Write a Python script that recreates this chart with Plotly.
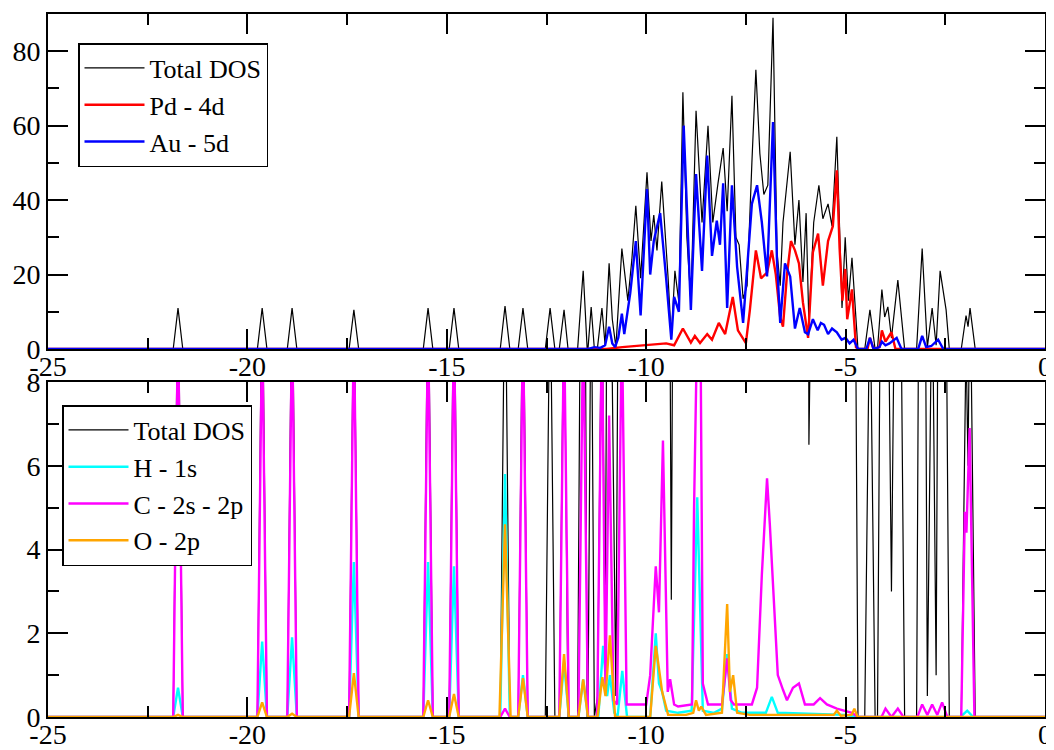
import plotly.graph_objects as go

# ---------------- data ----------------
# Total density of states (shared by both panels)
E_TOTAL = [-25.0,
           -21.86, -21.74, -21.62,
           -19.75, -19.63, -19.51,
           -19.00, -18.88, -18.76,
           -17.45, -17.33, -17.21,
           -15.59, -15.47, -15.35,
           -14.94, -14.82, -14.70,
           -13.66, -13.54, -13.42,
           -13.21, -13.09, -12.97,
           -12.53, -12.41, -12.29,
           -12.18, -12.06, -11.96,
           -11.72, -11.58, -11.48, -11.46, -11.38, -11.30, -11.22, -11.11, -11.03, -10.93,
           -10.85, -10.76, -10.61, -10.46, -10.36, -10.26, -10.14, -9.98, -9.88, -9.81,
           -9.73, -9.61, -9.45, -9.37, -9.28, -9.18, -9.08, -8.98, -8.88, -8.75,
           -8.60, -8.45, -8.33, -8.20, -8.07, -7.97, -7.85, -7.75, -7.67, -7.57,
           -7.47, -7.35, -7.25, -7.15, -7.05, -6.95, -6.82, -6.72, -6.64, -6.57,
           -6.39, -6.27, -6.17, -6.07, -5.99, -5.92, -5.80, -5.67, -5.57, -5.44,
           -5.34, -5.22, -5.09, -5.01, -4.93, -4.84, -4.69,
           -4.52, -4.39, -4.26, -4.20, -4.09, -4.02, -3.94, -3.85, -3.69, -3.52,
           -3.22, -3.08, -2.95, -2.83, -2.73, -2.63, -2.48, -2.40,
           -2.10, -1.98, -1.93, -1.88, -1.75, 0.0]
DOS_TOTAL = [0,
             0, 11, 0,
             0, 11, 0,
             0, 11, 0,
             0, 10.5, 0,
             0, 11, 0,
             0, 11, 0,
             0, 11.5, 0,
             0, 11, 0,
             0, 11, 0,
             0, 10.5, 0,
             0, 21, 0, 0, 11.3, 0, 0.5, 11, 1.0, 23,
             8, 0.5, 27, 13, 24, 38.5, 19, 47.5, 29, 36,
             26.5, 45, 19, 2.8, 21, 12.5, 69, 30, 12.5, 64,
             34, 60, 34, 44.5, 54, 37, 68, 30, 28, 13.5,
             17, 50, 75, 52.5, 41.5, 44, 89, 26, 17, 34,
             53, 28, 40, 18, 36.5, 6.5, 34, 44, 35, 39,
             33, 57, 11, 30, 13, 24.5, 0,
             0, 10.5, 0, 0, 16, 8.6, 11.3, 3, 18.5, 0,
             0, 27, 0.5, 11, 1, 21, 10.5, 0,
             0, 9, 6, 11, 0, 0]

# Pd - 4d
E_PD = [-25.0, -11.0, -10.6, -10.0, -9.5, -9.3, -9.08, -8.88, -8.78, -8.65,
        -8.47, -8.35, -8.18, -8.02, -7.83, -7.70, -7.50, -7.40, -7.25, -7.12,
        -6.97, -6.85, -6.75, -6.64, -6.57, -6.47, -6.37, -6.27, -6.17, -6.07,
        -5.94, -5.82, -5.69, -5.57, -5.44, -5.32, -5.22, -5.15, -5.08, -5.01,
        -4.96, -4.84, -4.74, -4.69, -4.45, -4.39, -4.30, -4.15, -4.09, -4.00,
        -3.85, -3.75, 0.0]
DOS_PD = [0, 0, 0.5, 1, 1.5, 1, 5.5, 1.7, 3.5, 1.6,
          4, 2.5, 7, 4, 14, 5, 1.6, 10.5, 26.5, 19,
          20.5, 26.5, 20, 8.5, 6, 20, 29, 26.5, 23, 12.5,
          3, 26, 31, 17, 29, 33, 48, 27, 13, 21.5,
          8, 16, 0.5, 0, 0, 3, 0, 0.5, 5, 2,
          4.5, 0, 0]

# Au - 5d
E_AU = [-25.0, -11.45, -11.30, -11.15, -11.03, -10.93, -10.85, -10.78, -10.70, -10.61,
        -10.55, -10.40, -10.26, -10.14, -9.98, -9.90, -9.81, -9.65, -9.50, -9.37,
        -9.30, -9.18, -9.06, -8.88, -8.75, -8.60, -8.47, -8.35, -8.23, -8.15,
        -8.07, -7.97, -7.85, -7.72, -7.57, -7.35, -7.22, -7.10, -6.97, -6.82,
        -6.72, -6.64, -6.52, -6.39, -6.27, -6.15, -6.02, -5.94, -5.82, -5.70,
        -5.62, -5.54, -5.44, -5.34, -5.22, -5.10, -5.00, -4.90, -4.80, -4.69,
        -4.48, -4.39, -4.30, -4.15, -4.09, -4.00, -3.90, -3.72, -3.60, -3.18,
        -3.08, -2.98, -2.85, -2.68, -2.55, 0.0]
DOS_AU = [0, 0, 0.5, 0.3, 1.0, 6, 1.5, 0.5, 3, 9.5,
          4, 15, 29, 9, 43, 20, 29, 36.5, 19, 2.5,
          14, 10, 60, 10.5, 47, 21, 52, 25, 34.5, 28,
          44.5, 11, 44, 22, 7, 39, 44, 34, 19.5, 61,
          23.5, 7, 23, 19.5, 5.5, 11, 4.5, 4, 8, 5,
          7, 6.5, 4, 5.5, 4.5, 2.5, 3, 1.5, 2.5, 0,
          0, 3, 0, 0.5, 2, 1, 1.5, 3, 0, 0,
          3.5, 0.5, 0.8, 2.5, 0, 0]

# H - 1s
E_H = [-25.0,
       -21.86, -21.74, -21.62,
       -19.75, -19.63, -19.51,
       -19.00, -18.88, -18.76,
       -17.45, -17.33, -17.21,
       -15.59, -15.47, -15.35,
       -14.94, -14.82, -14.70,
       -13.66, -13.54, -13.42,
       -13.21, -13.09, -12.97,
       -12.18, -12.06, -11.94,
       -11.70, -11.58, -11.46,
       -11.20, -11.08, -10.98, -10.91, -10.80, -10.72, -10.60, -10.48,
       -9.90, -9.76, -9.68, -9.60, -9.50, -9.20, -8.86, -8.72, -8.58, -8.30,
       -8.10, -7.97, -7.85, -7.60, -7.00, -6.85, -6.70, -5.00, -4.69,
       -2.12, -1.95, -1.80, 0.0]
DOS_H = [0,
         0, 0.7, 0,
         0, 1.8, 0,
         0, 1.9, 0,
         0, 3.7, 0,
         0, 3.7, 0,
         0, 3.6, 0,
         0, 5.8, 0,
         0, 1.0, 0,
         0, 1.3, 0,
         0, 0.9, 0,
         0, 1.7, 0.5, 1.0, 0.1, 0, 1.1, 0,
         0, 2.0, 0.8, 0.6, 0.15, 0.1, 0.15, 5.25, 0.15, 0.1,
         0.2, 1.5, 0.2, 0.1, 0.1, 0.48, 0.1, 0.05, 0,
         0, 0.15, 0, 0]

# C - 2s - 2p
E_C = [-25.0,
       -21.86, -21.74, -21.62,
       -19.75, -19.63, -19.51,
       -19.00, -18.88, -18.76,
       -17.45, -17.33, -17.21,
       -15.59, -15.47, -15.35,
       -14.94, -14.82, -14.70,
       -13.66, -13.54, -13.42,
       -13.21, -13.09, -12.97,
       -12.18, -12.06, -11.94,
       -11.70, -11.58, -11.46,
       -11.23, -11.11, -11.02, -10.93, -10.82, -10.73, -10.61, -10.49,
       -10.40, -10.00, -9.90, -9.76, -9.68, -9.58, -9.46, -9.40, -9.30, -9.20,
       -8.85, -8.80, -8.72, -8.64, -8.58, -8.45, -8.10, -7.97, -7.88, -7.80,
       -7.35, -7.22, -7.10, -6.97, -6.90, -6.77, -6.70, -6.57, -6.47, -6.32,
       -6.17, -6.02, -5.80, -5.64, -5.47, -5.22, -4.84, -4.69,
       -4.10, -4.00, -3.85, -3.69, -3.55, -3.20, -3.08, -2.95, -2.83, -2.70, -2.58, -2.45,
       -2.10, -2.01, -1.97, -1.89, -1.77, 0.0]
DOS_C = [0,
         0, 9.5, 0,
         0, 9.5, 0,
         0, 9.5, 0,
         0, 9.5, 0,
         0, 9.5, 0,
         0, 9.5, 0,
         0, 0.2, 0,
         0, 9.5, 0,
         0, 9.5, 0,
         0, 9.5, 0,
         0, 9.5, 0.6, 7.2, 0.4, 0.3, 9.5, 0.3,
         0.3, 0.3, 1.0, 3.6, 2.5, 6.6, 0.6, 0.9, 0.3, 0.25,
         0.3, 5, 9.5, 9.5, 0.8, 0.3, 0.3, 1.4, 0.4, 0.3,
         0.3, 0.7, 3.4, 5.7, 4.6, 2.15, 1.0, 0.65, 0.4, 0.7,
         0.8, 0.3, 0.3, 0.45, 0.3, 0.2, 0.1, 0,
         0, 0.2, 0, 0.2, 0, 0, 0.3, 0.05, 0.3, 0.05, 0.35, 0,
         0, 4.9, 4.4, 6.9, 0, 0]

# O - 2p
E_O = [-25.0,
       -21.86, -21.74, -21.62,
       -19.75, -19.63, -19.51,
       -19.00, -18.88, -18.76,
       -17.45, -17.33, -17.21,
       -15.59, -15.47, -15.35,
       -14.94, -14.82, -14.70,
       -13.68, -13.54, -13.40,
       -13.21, -13.09, -12.97,
       -12.18, -12.06, -11.94,
       -11.70, -11.58, -11.46,
       -11.22, -11.10, -11.02, -10.91, -10.78,
       -9.90, -9.76, -9.70, -9.60, -9.45, -9.00, -8.82, -8.75, -8.68, -8.62,
       -8.50, -8.10, -7.97, -7.90, -7.82, -7.72, -7.40, -5.30, -5.22, -5.12,
       -4.85, -4.78, -4.70,
       0.0]
DOS_O = [0,
         0, 0.05, 0,
         0, 0.35, 0,
         0, 0.08, 0,
         0, 1.05, 0,
         0, 0.4, 0,
         0, 0.55, 0,
         0, 4.6, 0,
         0, 0.93, 0,
         0, 1.5, 0,
         0, 0.9, 0,
         0, 0.95, 0.5, 1.95, 0,
         0, 1.7, 1.3, 0.6, 0.05, 0.05, 0.1, 0.4, 0.15, 0.25,
         0.05, 0.1, 2.7, 0.6, 1.0, 0.1, 0.05, 0.05, 0.15, 0.03,
         0.05, 0.2, 0,
         0]

# axis ticks and labels
X_TICKS = [-25, -20, -15, -10, -5, 0]
X_TICK_LABELS = ["-25", "-20", "-15", "-10", "-5", "0"]
X_MINOR = [-22.5, -17.5, -12.5, -7.5, -2.5]
Y1_TICKS = [0, 20, 40, 60, 80]
Y1_TICK_LABELS = ["0", "20", "40", "60", "80"]
Y1_MINOR = [10, 30, 50, 70, 90]
Y2_TICKS = [0, 2, 4, 6, 8]
Y2_TICK_LABELS = ["0", "2", "4", "6", "8"]
Y2_MINOR = [1, 3, 5, 7]

for a, b, n in [(E_TOTAL, DOS_TOTAL, "total"), (E_PD, DOS_PD, "pd"), (E_AU, DOS_AU, "au"),
                (E_H, DOS_H, "h"), (E_C, DOS_C, "c"), (E_O, DOS_O, "o")]:
    if len(a) != len(b):
        print("length mismatch", n, len(a), len(b))

# ---------------- figure ----------------
# The page body adds an 8px margin, so the figure is 8px smaller and offset.
FONT = "Liberation Serif"
OFF = 8
W, H = 1054 - OFF, 750 - OFF
# target plot area in page pixels: x 48..1045, top panel 14..349, bottom 382..717
ML, MT = 48 - OFF, 14 - OFF
MR = W - (1045 - OFF)
MB = H - (717 - OFF)
plot_w = W - ML - MR
plot_h = H - MT - MB
top_lo = (717 - 349) / plot_h
bot_hi = (717 - 382) / plot_h

fig = go.Figure()
top_series = [
    (E_TOTAL, DOS_TOTAL, "Total DOS", "#000000", 1.2),
    (E_PD, DOS_PD, "Pd - 4d", "#ff0000", 2.4),
    (E_AU, DOS_AU, "Au - 5d", "#0000ff", 2.4),
]
for ex, dy, name, col, w in top_series:
    fig.add_trace(go.Scatter(x=ex, y=dy, mode="lines", name=name,
                             line=dict(color=col, width=w),
                             xaxis="x", yaxis="y", legend="legend"))

bot_series = [
    (E_TOTAL, DOS_TOTAL, "Total DOS", "#000000", 1.2),
    (E_H, DOS_H, "H - 1s", "#00ffff", 2.4),
    (E_C, DOS_C, "C - 2s - 2p", "#ff00ff", 2.4),
    (E_O, DOS_O, "O - 2p", "#ffa500", 2.4),
]
for ex, dy, name, col, w in bot_series:
    fig.add_trace(go.Scatter(x=ex, y=dy, mode="lines", name=name,
                             line=dict(color=col, width=w),
                             xaxis="x2", yaxis="y2", legend="legend2"))

tickfont = dict(family=FONT, size=28, color="black")
common = dict(showline=True, linecolor="black", linewidth=2, mirror="ticks",
              ticks="inside", tickcolor="black", tickwidth=1.5, ticklen=20,
              showgrid=False, zeroline=False, tickfont=tickfont,
              fixedrange=True, automargin=False)

def xax(anchor):
    return dict(common, anchor=anchor, domain=[0, 1], range=[-25, 0],
                tickmode="array", tickvals=X_TICKS, ticktext=X_TICK_LABELS,
                ticklabelstandoff=-9,
                minor=dict(tickmode="array", tickvals=X_MINOR, ticks="inside",
                           ticklen=11, tickcolor="black", tickwidth=1.5))

legend_common = dict(xanchor="left", yanchor="top", bgcolor="white",
                     bordercolor="black", borderwidth=1.5, tracegroupgap=0,
                     itemwidth=60,
                     font=dict(family=FONT, size=26, color="black"))

fig.update_layout(
    width=W, height=H,
    margin=dict(l=ML, r=MR, t=MT, b=MB, autoexpand=False),
    paper_bgcolor="white", plot_bgcolor="white",
    showlegend=True,
    xaxis=xax("y"),
    xaxis2=xax("y2"),
    yaxis=dict(common, anchor="x", domain=[top_lo, 1], range=[0, 90],
               tickmode="array", tickvals=Y1_TICKS, ticktext=Y1_TICK_LABELS,
               minor=dict(tickmode="array", tickvals=Y1_MINOR, ticks="inside",
                          ticklen=11, tickcolor="black", tickwidth=1.5)),
    yaxis2=dict(common, anchor="x2", domain=[0, bot_hi], range=[0, 8],
                tickmode="array", tickvals=Y2_TICKS, ticktext=Y2_TICK_LABELS,
                minor=dict(tickmode="array", tickvals=Y2_MINOR, ticks="inside",
                           ticklen=11, tickcolor="black", tickwidth=1.5)),
    legend=dict(legend_common, x=(78 - 48) / plot_w, y=(717 - 43) / plot_h),
    legend2=dict(legend_common, x=(62 - 48) / plot_w, y=(717 - 405) / plot_h),
)

fig.write_html("out.html")
